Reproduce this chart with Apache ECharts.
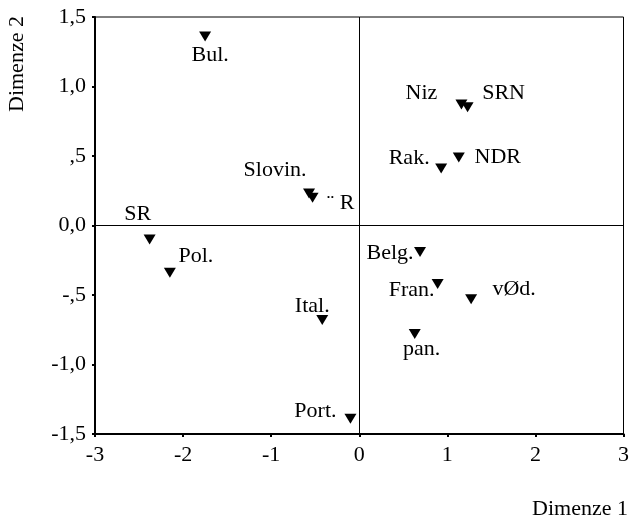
<!DOCTYPE html>
<html><head><meta charset="utf-8">
<script src="https://cdn.jsdelivr.net/npm/echarts@6/dist/echarts.min.js"></script>
<style>html,body{margin:0;padding:0;background:#fff}#c{width:632px;height:522px}</style>
</head><body><div id="c"></div>
<script>
const labels = ['Bul.','Slovin.','\u00a8 R','SR','Pol.','Ital.','Port.','Niz','SRN','Rak.','NDR','Belg.','Fran.','vØd.','pan.'];
const dim1 = [-1.75,-0.57,-0.53,-2.38,-2.15,-0.42,-0.10,1.16,1.23,0.93,1.13,0.69,0.89,1.27,0.63];
const dim2 = [1.36,0.23,0.20,-0.10,-0.34,-0.68,-1.39,0.87,0.85,0.41,0.49,-0.19,-0.42,-0.53,-0.78];
const xTicks = ['-3','-2','-1','0','1','2','3'];
const yTicks = ['-1,5','-1,0','-,5','0,0',',5','1,0','1,5'];
// label offsets (style only)
const labelOffsets = [[5,19],[-34,-23],[28,6],[-12,-25],[26,-17],[-10,-14],[-35,-7],[-40,-11],[36,-14],[-32,-10],[39,0],[-30,1],[-26,6],[43,-10],[7,15]];

const font = 'Liberation Serif';
const fs = 22;
const data = labels.map((n,i)=>({
  value:[dim1[i],dim2[i]], name:n,
  label:{show:true, formatter:n, position:'inside', offset:labelOffsets[i], color:'#000', fontFamily:font, fontSize:fs}
}));
const chart = echarts.init(document.getElementById('c'));
chart.setOption({
  animation:false,
  backgroundColor:'#fff',
  grid:{left:95,right:4,top:17,bottom:88,show:true,borderColor:'#000',borderWidth:1},
  xAxis:{type:'value',min:-3,max:3,interval:1,
    axisLine:{onZero:false,lineStyle:{color:'#000',width:2}},
    axisTick:{show:true,length:3,lineStyle:{color:'#000',width:2}},
    splitLine:{show:false},
    axisLabel:{color:'#000',fontFamily:font,fontSize:fs,margin:10,formatter:(v)=>xTicks[Math.round(v)+3]}
  },
  yAxis:{type:'value',min:-1.5,max:1.5,interval:0.5,
    axisLine:{onZero:false,lineStyle:{color:'#000',width:2}},
    axisTick:{show:true,length:3,lineStyle:{color:'#000',width:2}},
    splitLine:{show:false},
    axisLabel:{color:'#000',fontFamily:font,fontSize:fs,margin:9,formatter:(v)=>yTicks[Math.round(v*2)+3]}
  },
  graphic:[
    {type:'text',x:6,y:112,rotation:Math.PI/2,style:{text:'Dimenze 2',font:fs+'px "Liberation Serif"',fill:'#000'}},
    {type:'text',right:4,bottom:2,style:{text:'Dimenze 1',font:fs+'px "Liberation Serif"',fill:'#000'}}
  ],
  series:[{
    type:'scatter',
    symbol:'triangle',symbolRotate:180,symbolSize:[12,10],
    itemStyle:{color:'#000',opacity:1},
    data:data,
    markLine:{silent:true,symbol:'none',label:{show:false},
      lineStyle:{color:'#000',width:1,type:'solid'},
      data:[{xAxis:0},{yAxis:0}]}
  }]
});
</script></body></html>
